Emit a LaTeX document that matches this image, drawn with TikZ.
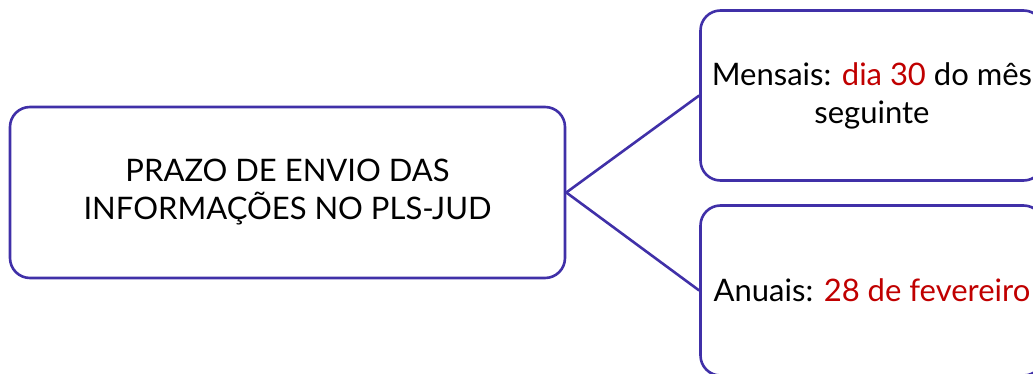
\documentclass[tikz,border=0pt]{standalone}
\usepackage{fontspec}
\setmainfont{Lato}
\usepackage{tikz}

\definecolor{roxo}{RGB}{64,48,168}
\definecolor{vermelho}{RGB}{192,0,0}

\begin{document}
\begin{tikzpicture}[x=1pt,y=-1pt,
	caixa/.style={draw=roxo, line width=2.6pt, rounded corners=20pt, inner sep=0pt,
		align=center, font=\fontsize{31}{38}\selectfont},
	ligacao/.style={draw=roxo, line width=2.6pt}]
	% Moldura da figura
	\clip (0,0) rectangle (1033,374);
	
	% Caixa principal
	\node[caixa, minimum width=555pt, minimum height=171pt] (prazo) at (287.5,192.5)
		{PRAZO DE ENVIO DAS\\INFORMAÇÕES NO PLS-JUD};
	
	% Caixas da direita
	\node[caixa, minimum width=343pt, minimum height=170pt] (mensais) at (872,95.5)
		{Mensais: \textcolor{vermelho}{dia 30} do mês\\seguinte};
	\node[caixa, minimum width=343pt, minimum height=170pt] (anuais) at (872,290.5)
		{Anuais: \textcolor{vermelho}{28 de fevereiro}};
	
	% Ligações
	\draw[ligacao] (prazo.east) -- (mensais.west);
	\draw[ligacao] (prazo.east) -- (anuais.west);
\end{tikzpicture}
\end{document}
